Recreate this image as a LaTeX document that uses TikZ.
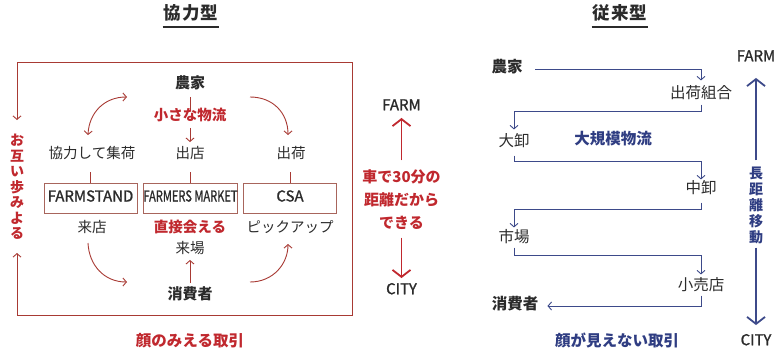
\documentclass[tikz,border=0pt]{standalone}
\usepackage{fontspec}
\usepackage{graphicx}
\setmainfont{Noto Sans CJK JP}
\newfontfamily\medfont{Noto Sans CJK JP}[FakeBold=1.2]
\usetikzlibrary{arrows.meta}
\definecolor{rtext}{HTML}{C0282E}
\definecolor{rline}{HTML}{A83A34}
\definecolor{rbox}{HTML}{A8655C}
\definecolor{ntext}{HTML}{2F3D82}
\definecolor{nline}{HTML}{3D4A8A}
\definecolor{ktext}{HTML}{2B2B2B}
\begin{document}
\begin{tikzpicture}[x=1pt,y=-1pt,
  every node/.style={inner sep=0pt,text=ktext},
  thgt/.style={text height=0.8em,text depth=0.15em},
  jp/.style={thgt,font=\fontsize{14.5}{16}\selectfont},
  jpb/.style={thgt,font=\fontsize{15}{16}\selectfont\bfseries},
  rb/.style={thgt,font=\fontsize{14.5}{16}\selectfont\bfseries,text=rtext},
  jp2/.style={thgt,font=\fontsize{15.5}{17}\selectfont},
  jpb2/.style={thgt,font=\fontsize{15.5}{17}\selectfont\bfseries},
  nb2/.style={thgt,font=\fontsize{15.5}{17}\selectfont\bfseries,text=ntext},
  captxt/.style={thgt,font=\fontsize{15.5}{17}\selectfont\bfseries},
  lat/.style={thgt,font=\fontsize{15}{17}\medfont},
  ttl/.style={thgt,font=\fontsize{17.5}{19}\selectfont\bfseries\addfontfeatures{LetterSpace=6}},
  boxn/.style={draw=rbox,line width=0.8pt,minimum width=93pt,minimum height=30pt,
    font=\fontsize{15}{17}\medfont,text height=0.7em,text depth=0em},
  rl/.style={draw=rline,line width=0.9pt},
  nl/.style={draw=nline,line width=0.9pt},
  >={Straight Barb[length=3.5pt,width=8pt]},
  bigarr/.style={line width=1.8pt,-{Straight Barb[length=7pt,width=18pt]}},
]
\useasboundingbox (0,0) rectangle (778,353);

% ---------------- left: 協力型 ----------------
\node[ttl] (t1) at (191,16) {協力型};
\draw[ktext,line width=1.6pt] ([yshift=-6pt,xshift=-1pt]t1.south west) -- ([yshift=-6pt]t1.south east);

\node[jpb] (n1) at (190,85) {農家};
\node[rb] (n2) at (190,117) {小さな物流};
\node[jp] (a1) at (92,155) {協力して集荷};
\node[jp] (a2) at (190,155) {出店};
\node[jp] (a3) at (291,155) {出荷};
\node[boxn] (b1) at (90.5,198) {FARMSTAND};
\node[boxn] (b2) at (190.5,198) {\scalebox{0.74}[1]{FARMERS MARKET}};
\node[boxn] (b3) at (290,198) {CSA};
\node[jp] (d1) at (92,229) {来店};
\node[rb] (d2) at (190,229) {直接会える};
\node[jp] (d3) at (290,229) {ピックアップ};
\node[jp] (d4) at (190,250) {来場};
\node[jpb] (n3) at (190,296) {消費者};
\node[captxt,text=rtext] (cap1) at (190,343) {顔のみえる取引};

\draw[rl] ([yshift=-7pt]n1.south) -- ([yshift=2pt]n2.north);
\draw[rl,->] ([yshift=-6pt]n2.south) -- ([yshift=8pt]a2.north);
\draw[rl] (b1.north) -- ++(0,-11);
\draw[rl] (b2.north) -- ++(0,-11);
\draw[rl] (b3.north) -- ++(0,-11);
\draw[rl,->] ([yshift=8pt]n3.north) -- ([yshift=-5pt]d4.south);

\coordinate (p1) at (88,135);  \coordinate (p2) at (127,97);
\coordinate (p3) at (250,97);  \coordinate (p4) at (288,135);
\coordinate (p5) at (88,243);  \coordinate (p6) at (127,282);
\coordinate (p7) at (250,282); \coordinate (p8) at (288,244);
\draw[rl,<->] (p1) .. controls (89,113) and (104,97) .. (p2);
\draw[rl,->] (p3) .. controls (273,97) and (288,113) .. (p4);
\draw[rl,->] (p5) .. controls (89,265) and (104,282) .. (p6);
\draw[rl,->] (p7) .. controls (273,282) and (288,264) .. (p8);

\node[font=\fontsize{14}{15.5}\selectfont\bfseries,text=rtext,align=center] (lv) at (17,187)
  {お\\互\\い\\歩\\み\\よ\\る};
\coordinate (la) at (17,120); \coordinate (lb) at (17,253);
\coordinate (f1a) at (17,62); \coordinate (f1b) at (352,62);
\coordinate (f1c) at (352,315); \coordinate (f1d) at (17,315);
\draw[rl,<->] (la) -- (f1a) -- (f1b) -- (f1c) -- (f1d) -- (lb);

% ---------------- middle ----------------
\node[lat] (fm1) at (401.5,107) {FARM};
\node[font=\fontsize{15}{23}\selectfont\bfseries,text=rtext,align=center] (m1) at (401.5,200)
  {車で30分の\\距離だから\\できる};
\node[lat] (ct1) at (401.5,291) {CITY};
\draw[bigarr,draw=rtext] ([yshift=9.5pt]m1.north) -- ([yshift=-6pt]fm1.south);
\draw[bigarr,draw=rtext] ([yshift=-7.5pt]m1.south) -- ([yshift=8pt]ct1.north);

% ---------------- right: 従来型 ----------------
\node[ttl] (t2) at (620,16) {従来型};
\draw[ktext,line width=1.6pt] ([yshift=-6pt,xshift=-1pt]t2.south west) -- ([yshift=-6pt]t2.south east);

\node[jpb2] (r1) at (507,69) {農家};
\node[jp2] (r2) at (701,95) {出荷組合};
\node[jp2] (r3) at (514,143) {大卸};
\node[nb2] (rm) at (613,141) {大規模物流};
\node[jp2] (r4) at (701,190) {中卸};
\node[jp2] (r5) at (514,239) {市場};
\node[jp2] (r6) at (701,287) {小売店};
\node[jpb2] (r7) at (515,306) {消費者};
\node[captxt,text=ntext] (cap2) at (617,343) {顔が見えない取引};

\draw[nl,->] ([xshift=12.5pt]r1.east) -| ([yshift=9.6pt]r2.north);
\draw[nl,->] ([yshift=-4.6pt]r2.south) -- ++(0,7) -| ([yshift=8.6pt]r3.north);
\draw[nl,->] ([yshift=-7.6pt]r3.south) -- ++(0,6) -| ([yshift=5.6pt]r4.north);
\draw[nl,->] ([yshift=-7.6pt]r4.south) -- ++(0,7) -| ([yshift=6.6pt]r5.north);
\draw[nl,->] ([yshift=-3.6pt]r5.south) -- ++(0,8) -| ([yshift=7.6pt]r6.north);
\draw[nl,->] ([yshift=-3.6pt]r6.south) |- ([xshift=9pt]r7.east);

\node[lat] (fm2) at (756,58) {FARM};
\node[font=\fontsize{14}{16}\selectfont\bfseries,text=ntext,align=center] (rv) at (756,205)
  {長\\距\\離\\移\\動};
\node[lat] (ct2) at (756,342) {CITY};
\draw[bigarr,draw=nline] ([yshift=6pt]rv.north) -- ([yshift=-15pt]fm2.south);
\draw[bigarr,draw=nline] ([yshift=-4pt]rv.south) -- ([yshift=12pt]ct2.north);
\end{tikzpicture}
\end{document}
